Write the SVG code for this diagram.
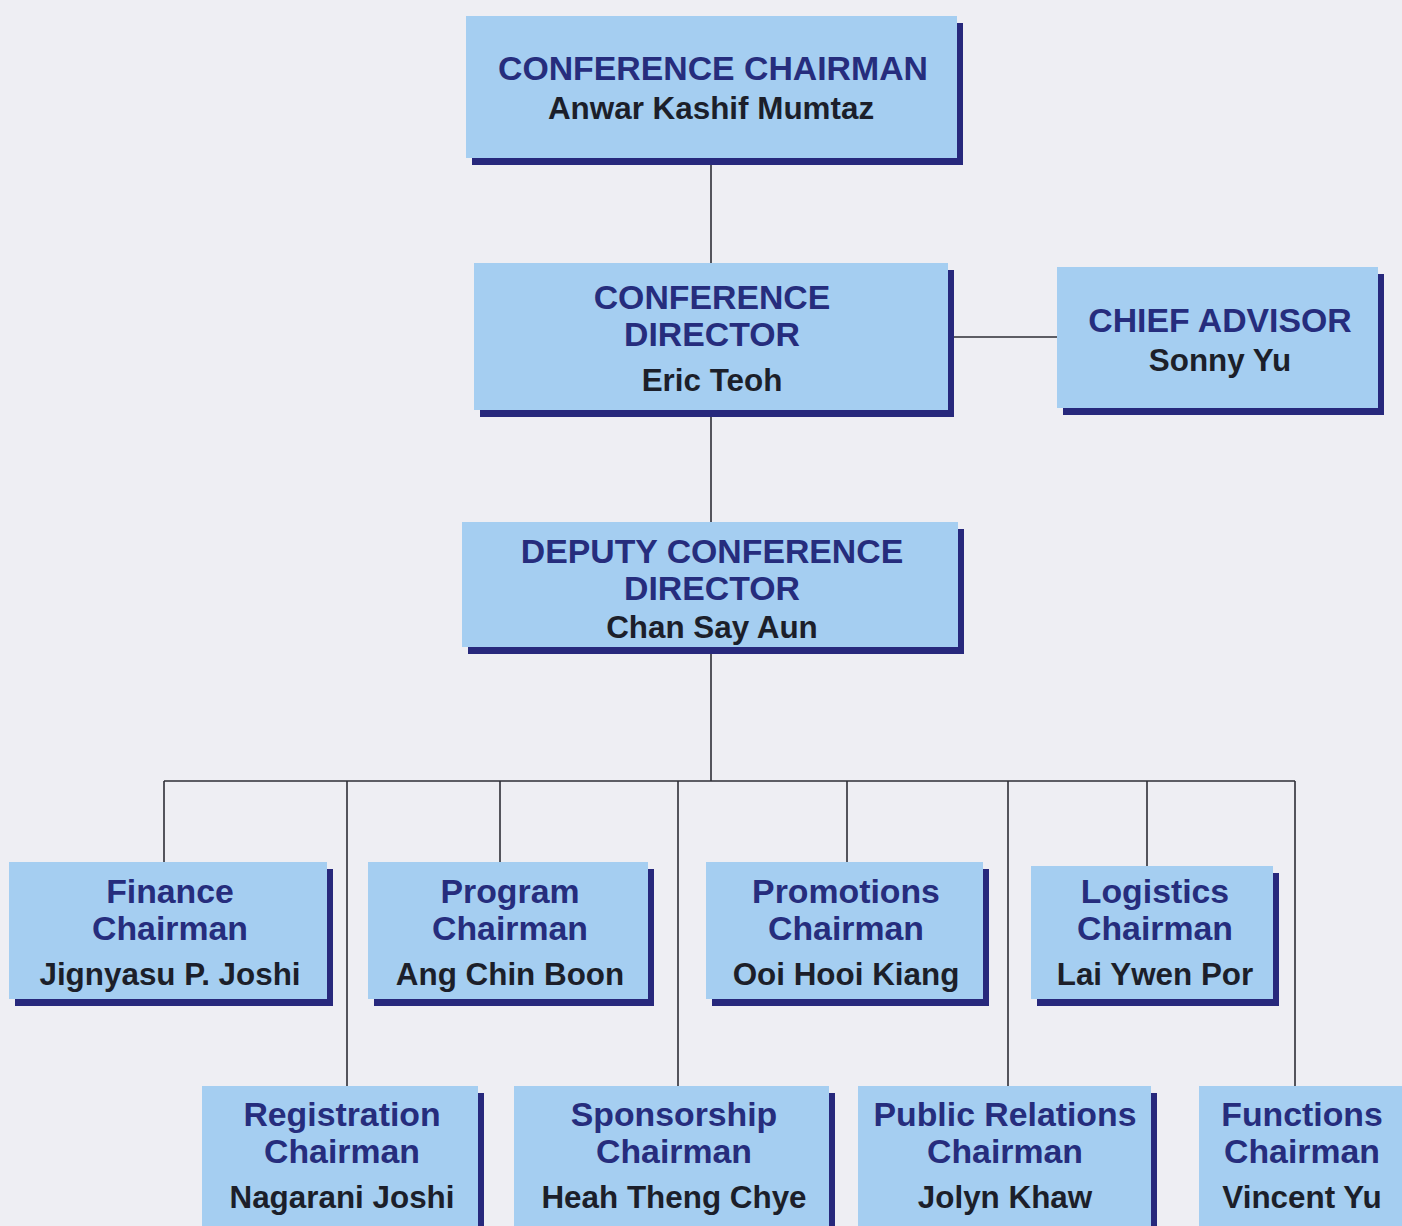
<svg xmlns="http://www.w3.org/2000/svg" width="1402" height="1226" viewBox="0 0 1402 1226">
<defs>
<style>
.bg{fill:#eeeef3}
.box{fill:#a5cef1}
.sh{fill:#27287c}
.t{font-family:"Liberation Sans",Arial,sans-serif;font-weight:bold;font-size:33.8px;fill:#262d7d;text-anchor:middle}
.n{font-family:"Liberation Sans",Arial,sans-serif;font-weight:bold;font-size:31.4px;fill:#1c1f2a;text-anchor:middle}
.c{stroke:#2e2e36;stroke-width:1.6;fill:none}
</style>
</defs>
<rect class="bg" x="0" y="0" width="1402" height="1226"/>
<g id="connectors">
<path class="c" d="M711 158V263M711 410V522M711 647V781M954 337H1057"/>
<path class="c" d="M164 781H1295M164 781V862M347 781V1086M500 781V862M678 781V1086M847 781V862M1008 781V1086M1147 781V866M1295 781V1086"/>
</g>
<g id="conference-chairman">
<rect class="sh" x="472" y="23" width="491" height="142"/>
<rect class="box" x="466" y="16" width="491" height="142"/>
<text class="t" x="713" y="80">CONFERENCE CHAIRMAN</text>
<text class="n" x="711" y="119">Anwar Kashif Mumtaz</text>
</g>
<g id="conference-director">
<rect class="sh" x="480" y="270" width="474" height="147"/>
<rect class="box" x="474" y="263" width="474" height="147"/>
<text class="t" x="712" y="309">CONFERENCE</text>
<text class="t" x="712" y="346">DIRECTOR</text>
<text class="n" x="712" y="391">Eric Teoh</text>
</g>
<g id="chief-advisor">
<rect class="sh" x="1063" y="274" width="321" height="141"/>
<rect class="box" x="1057" y="267" width="321" height="141"/>
<text class="t" x="1220" y="332">CHIEF ADVISOR</text>
<text class="n" x="1220" y="371">Sonny Yu</text>
</g>
<g id="deputy-conference-director">
<rect class="sh" x="468" y="529" width="496" height="125"/>
<rect class="box" x="462" y="522" width="496" height="125"/>
<text class="t" x="712" y="563">DEPUTY CONFERENCE</text>
<text class="t" x="712" y="600">DIRECTOR</text>
<text class="n" x="712" y="638">Chan Say Aun</text>
</g>
<g id="finance-chairman">
<rect class="sh" x="15" y="869" width="318" height="137"/>
<rect class="box" x="9" y="862" width="318" height="137"/>
<text class="t" x="170" y="903">Finance</text>
<text class="t" x="170" y="940">Chairman</text>
<text class="n" x="170" y="985">Jignyasu P. Joshi</text>
</g>
<g id="program-chairman">
<rect class="sh" x="374" y="869" width="280" height="137"/>
<rect class="box" x="368" y="862" width="280" height="137"/>
<text class="t" x="510" y="903">Program</text>
<text class="t" x="510" y="940">Chairman</text>
<text class="n" x="510" y="985">Ang Chin Boon</text>
</g>
<g id="promotions-chairman">
<rect class="sh" x="712" y="869" width="277" height="137"/>
<rect class="box" x="706" y="862" width="277" height="137"/>
<text class="t" x="846" y="903">Promotions</text>
<text class="t" x="846" y="940">Chairman</text>
<text class="n" x="846" y="985">Ooi Hooi Kiang</text>
</g>
<g id="logistics-chairman">
<rect class="sh" x="1037" y="873" width="242" height="133"/>
<rect class="box" x="1031" y="866" width="242" height="133"/>
<text class="t" x="1155" y="903">Logistics</text>
<text class="t" x="1155" y="940">Chairman</text>
<text class="n" x="1155" y="985">Lai Ywen Por</text>
</g>
<g id="registration-chairman">
<rect class="sh" x="208" y="1093" width="276" height="150"/>
<rect class="box" x="202" y="1086" width="276" height="150"/>
<text class="t" x="342" y="1126">Registration</text>
<text class="t" x="342" y="1163">Chairman</text>
<text class="n" x="342" y="1208">Nagarani Joshi</text>
</g>
<g id="sponsorship-chairman">
<rect class="sh" x="520" y="1093" width="315" height="150"/>
<rect class="box" x="514" y="1086" width="315" height="150"/>
<text class="t" x="674" y="1126">Sponsorship</text>
<text class="t" x="674" y="1163">Chairman</text>
<text class="n" x="674" y="1208">Heah Theng Chye</text>
</g>
<g id="public-relations-chairman">
<rect class="sh" x="864" y="1093" width="293" height="150"/>
<rect class="box" x="858" y="1086" width="293" height="150"/>
<text class="t" x="1005" y="1126">Public Relations</text>
<text class="t" x="1005" y="1163">Chairman</text>
<text class="n" x="1005" y="1208">Jolyn Khaw</text>
</g>
<g id="functions-chairman">
<rect class="sh" x="1205" y="1093" width="210" height="150"/>
<rect class="box" x="1199" y="1086" width="210" height="150"/>
<text class="t" x="1302" y="1126">Functions</text>
<text class="t" x="1302" y="1163">Chairman</text>
<text class="n" x="1302" y="1208">Vincent Yu</text>
</g>
</svg>
